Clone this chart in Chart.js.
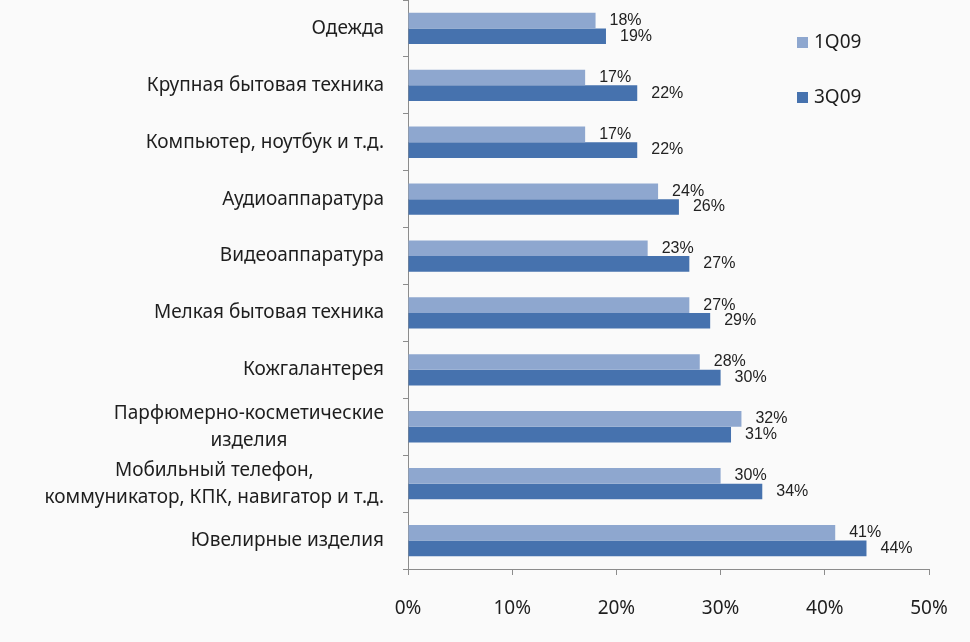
<!DOCTYPE html>
<html><head><meta charset="utf-8">
<script src="https://cdn.jsdelivr.net/npm/chart.js@4/dist/chart.umd.min.js"></script>
<style>html,body{margin:0;padding:0;background:#fafafa;}#wrap{width:970px;height:642px;}</style>
</head><body><div id="wrap"><canvas id="c" width="970" height="642"></canvas></div>
<script>
const categories = [
  ["Одежда"],
  ["Крупная бытовая техника"],
  ["Компьютер, ноутбук и т.д."],
  ["Аудиоаппаратура"],
  ["Видеоаппаратура"],
  ["Мелкая бытовая техника"],
  ["Кожгалантерея"],
  ["Парфюмерно-косметические", "изделия"],
  ["Мобильный телефон,", "коммуникатор, КПК, навигатор и т.д."],
  ["Ювелирные изделия"]
];
const seriesNames = ["1Q09", "3Q09"];
const values1Q09 = [18, 17, 17, 24, 23, 27, 28, 32, 30, 41];
const values3Q09 = [19, 22, 22, 26, 27, 29, 30, 31, 34, 44];
const xTicks = [0, 10, 20, 30, 40, 50];

const TEXT = '#1e1e1e';
const FONT = '"Noto Sans", "Open Sans", sans-serif';

const labelsPlugin = {
  id: 'customLabels',
  afterDatasetsDraw(chart) {
    const ctx = chart.ctx;
    ctx.save();
    // data labels
    ctx.font = '16px "Liberation Sans", sans-serif';
    ctx.fillStyle = '#222';
    ctx.textAlign = 'left';
    ctx.textBaseline = 'middle';
    chart.data.datasets.forEach((ds, di) => {
      const meta = chart.getDatasetMeta(di);
      meta.data.forEach((bar, i) => {
        ctx.fillText(ds.data[i] + '%', bar.x + 14, bar.y);
      });
    });
    // category labels (centered lines, block right-aligned)
    const y = chart.scales.y;
    ctx.font = '19px ' + FONT;
    ctx.fillStyle = TEXT;
    ctx.textAlign = 'center';
    const right = chart.chartArea.left - 24;
    chart.data.labels.forEach((lines, i) => {
      const cy = y.getPixelForTick(i);
      const maxW = Math.max(...lines.map(l => ctx.measureText(l).width));
      const cx = right - maxW / 2;
      const lh = 27;
      const start = cy - (lines.length - 1) * lh / 2;
      lines.forEach((l, k) => ctx.fillText(l, cx, start + k * lh));
    });
    // legend
    ctx.textAlign = 'left';
    ctx.font = '19px ' + FONT;
    chart.data.datasets.forEach((ds, di) => {
      const ly = 43 + di * 55;
      ctx.fillStyle = ds.backgroundColor;
      ctx.fillRect(797, ly - 6, 11, 11);
      ctx.fillStyle = TEXT;
      ctx.fillText(ds.label, 814, ly);
    });
    ctx.restore();
  }
};

new Chart(document.getElementById('c'), {
  type: 'bar',
  data: {
    labels: categories,
    datasets: [
      { label: seriesNames[0], data: values1Q09, backgroundColor: '#8ea7cf', categoryPercentage: 0.55, barPercentage: 1.0 },
      { label: seriesNames[1], data: values3Q09, backgroundColor: '#4672ae', categoryPercentage: 0.55, barPercentage: 1.0 }
    ]
  },
  options: {
    indexAxis: 'y',
    responsive: false,
    animation: false,
    layout: { padding: { top: 0, right: 41, left: 0, bottom: 0 } },
    plugins: { legend: { display: false }, tooltip: { enabled: false } },
    scales: {
      x: {
        min: 0, max: 50,
        afterBuildTicks(scale) { scale.ticks = xTicks.map(v => ({ value: v })); },
        afterFit(scale) { scale.height = 73; },
        border: { display: true, color: '#8c8c8c', width: 1 },
        grid: { drawOnChartArea: false, drawTicks: true, tickLength: 6, color: '#8c8c8c' },
        ticks: { color: TEXT, font: { size: 19, family: FONT }, padding: 22, callback: v => v + '%' }
      },
      y: {
        afterFit(scale) { scale.width = 408; },
        border: { display: true, color: '#8c8c8c', width: 1 },
        grid: { drawOnChartArea: false, drawTicks: true, tickLength: 5, color: '#8c8c8c', offset: true },
        ticks: { display: false }
      }
    }
  },
  plugins: [labelsPlugin]
});
</script></body></html>
